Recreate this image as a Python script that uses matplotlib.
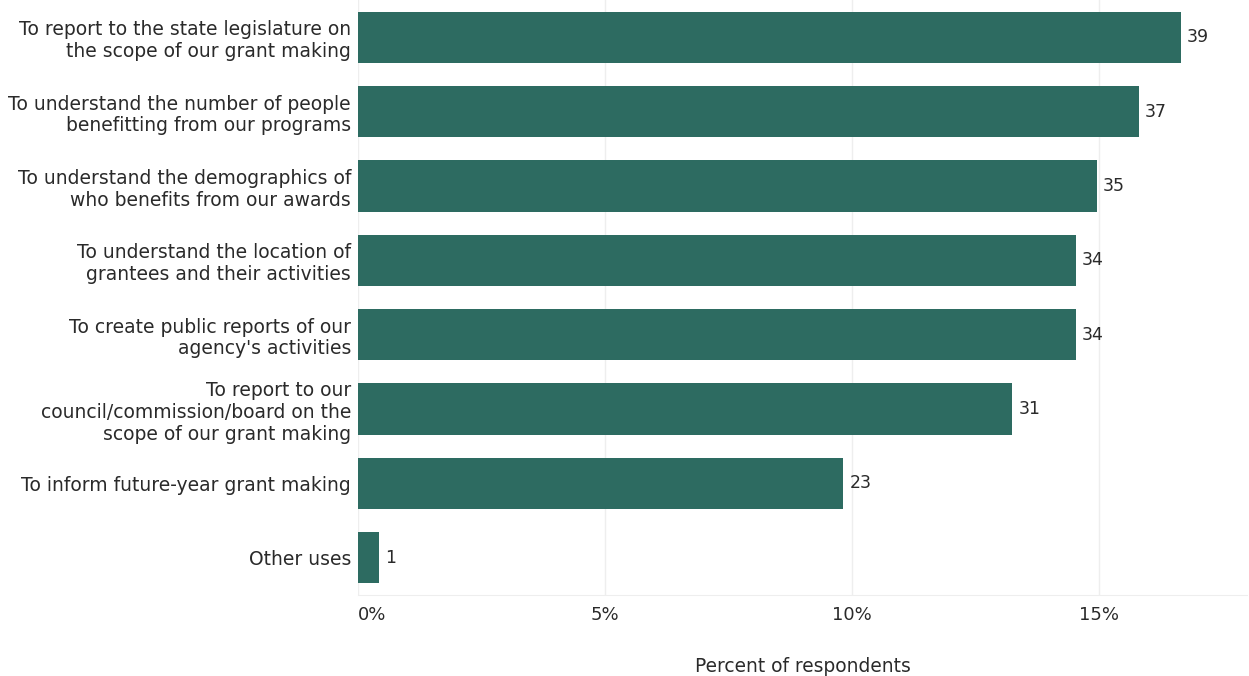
import matplotlib
matplotlib.use("Agg")
import matplotlib.pyplot as plt
from matplotlib.ticker import FuncFormatter

categories = [
    "To report to the state legislature on\nthe scope of our grant making",
    "To understand the number of people\nbenefitting from our programs",
    "To understand the demographics of\nwho benefits from our awards",
    "To understand the location of\ngrantees and their activities",
    "To create public reports of our\nagency's activities",
    "To report to our\ncouncil/commission/board on the\nscope of our grant making",
    "To inform future-year grant making",
    "Other uses",
]
counts = [39, 37, 35, 34, 34, 31, 23, 1]
total = sum(counts)
percents = [c / total * 100 for c in counts]
x_ticks = [0, 5, 10, 15]

plt.rcParams['font.family'] = ['DejaVu Sans']
text_color = "#2a2a2a"
bar_color = "#2d6b61"

fig = plt.figure(figsize=(12.49, 6.76), dpi=100)
ax = fig.add_axes([358 / 1249, 81 / 676, (1247 - 358) / 1249, 595 / 676])

y = list(range(len(categories)))
ax.barh(y, percents, height=0.69, color=bar_color, zorder=3)
for yi, p, c in zip(y, percents, counts):
    ax.text(p + 0.12, yi, str(c), va="center", ha="left", fontsize=12.5, color=text_color, zorder=4)

ax.set_ylim(len(categories) - 0.5, -0.5)
ax.set_xlim(0, 18)
ax.set_yticks(y)
ax.set_yticklabels(categories, fontsize=13.5, color=text_color, linespacing=1.18)
ax.set_xticks(x_ticks)
ax.xaxis.set_major_formatter(FuncFormatter(lambda v, pos: f"{v:.0f}%"))
ax.tick_params(axis="x", labelsize=13, labelcolor=text_color, length=0, pad=8)
ax.tick_params(axis="y", length=0, pad=5)
labels = ax.get_xticklabels()
labels[0].set_horizontalalignment("left")

ax.grid(axis="x", color="#eeeeee", linewidth=1, zorder=0)
for side in ["top", "right", "left"]:
    ax.spines[side].set_visible(False)
ax.spines["bottom"].set_color("#eeeeee")
ax.set_xlabel("Percent of respondents", fontsize=13.4, color=text_color, labelpad=24)

fig.savefig("out.png", dpi=100)
